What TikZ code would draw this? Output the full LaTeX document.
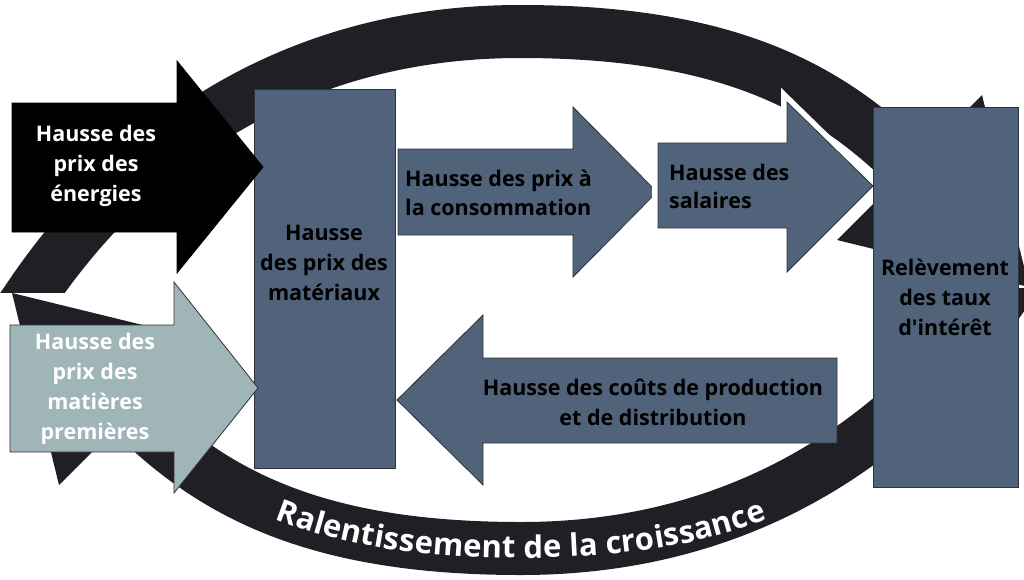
\documentclass[tikz,border=0pt]{standalone}
\usepackage{fontspec}
\setmainfont{Open Sans}
\usetikzlibrary{decorations.text}
\definecolor{ringc}{RGB}{31,31,37}
\definecolor{slate}{RGB}{80,99,122}
\definecolor{pale}{RGB}{159,181,184}
\definecolor{edgec}{RGB}{45,50,58}
\newcommand\boxfont{\fontsize{21.5}{30}\selectfont\bfseries}
\newcommand\ringfont{\fontsize{31}{31}\selectfont\bfseries}
\begin{document}
\begin{tikzpicture}[x=1pt,y=-1pt,
  band/.style={draw=ringc, line width=53pt, line cap=butt},
  ringhead/.style={fill=ringc},
  slateshape/.style={fill=slate, draw=edgec, line width=0.8pt},
  slatebox/.style={rectangle, fill=slate, draw=edgec, line width=0.8pt, inner sep=0pt, outer sep=0pt},
  darkarrow/.style={fill=black, draw=black, line width=0.8pt},
  palearrow/.style={fill=pale, draw=edgec, line width=0.8pt},
  halo/.style={draw=white, line width=12pt, line join=miter},
  lbl/.style={font=\boxfont, text=black, align=center, inner sep=0pt},
  lbll/.style={font=\boxfont, text=black, align=left, inner sep=0pt, anchor=west},
  wlbl/.style={font=\boxfont, text=white, align=center, inner sep=0pt}]
\useasboundingbox (0,0) rectangle (1024,579);

% ring: upper arc
\begin{scope}
  \clip (-60,-60) rectangle (1100,292);
  \draw[band] (10.4,325) -- (33,292) .. controls (118,168) and (270,31.5) .. (520,31.5)
        .. controls (720,31.5) and (825,83) .. (910,168);
  \fill[ringhead] (982,95) -- (1029,287) -- (837,240) -- cycle;
\end{scope}
% ring: lower arc (point reflection)
\begin{scope}[rotate around={180:(520.5,290)}]
  \clip (-60,-60) rectangle (1100,292);
  \draw[band] (10.4,325) -- (33,292) .. controls (118,168) and (270,31.5) .. (520,31.5)
        .. controls (720,31.5) and (825,83) .. (910,168);
  \fill[ringhead] (982,95) -- (1029,287) -- (837,240) -- cycle;
\end{scope}
% curved text
\path[decorate, decoration={text along path,
    text={|\ringfont\color{white}|Ralentissement de la croissance},
    text align=center, raise=-9.5pt}]
  (131,412) .. controls (216,497) and (321,548.5) .. (521,548.5)
  .. controls (721,548.5) and (826,497) .. (911,412);

% materials box
\node[slatebox, minimum width=141pt, minimum height=379pt] (mat) at (324.5,278.5) {};
% energy arrow
\path[darkarrow] (12,103) -- (177,103) -- (177,61) -- (263,167) -- (177,273) -- (177,232) -- (12,232) -- cycle;
% raw materials arrow
\path[palearrow] (10,325) -- (174,325) -- (174,282) -- (258,388) -- (174,493) -- (174,452) -- (10,452) -- cycle;
% consumption arrow
\path[slateshape] (398,149) -- (573,149) -- (573,107) -- (657,192) -- (573,277) -- (573,235) -- (398,235) -- cycle;
% wages arrow
\path[halo] (658,143) -- (787,143) -- (787,102) -- (873,186) -- (787,272) -- (787,228) -- (658,228) -- cycle;
\path[slateshape] (658,143) -- (787,143) -- (787,102) -- (873,186) -- (787,272) -- (787,228) -- (658,228) -- cycle;
% interest box
\node[slatebox, minimum width=145pt, minimum height=380pt] (rel) at (945.5,297) {};
% costs arrow
\path[slateshape] (837,358) -- (483,358) -- (483,315) -- (397,400) -- (483,485) -- (483,443) -- (837,443) -- cycle;

% labels
\node[wlbl] (tenerg) at (96,166) {Hausse des\\prix des\\énergies};
\node[wlbl] (tmatp) at (95,389) {Hausse des\\prix des\\matières\\premières};
\node[lbl] (tmat) at (324,263) {Hausse\\des prix des\\matériaux};
\node[lbll, font=\fontsize{21.5}{29}\selectfont\bfseries] (tcons) at (405,193) {Hausse des prix à\\la consommation};
\node[lbll, font=\fontsize{21.5}{28}\selectfont\bfseries] (tsal) at (669,186) {Hausse des\\salaires};
\node[lbl] (trel) at (945,297) {Relèvement\\des taux\\d\textquotesingle intérêt};
\node[lbl] (tcout) at (653,402) {Hausse des coûts de production\\et de distribution};
\end{tikzpicture}
\end{document}
